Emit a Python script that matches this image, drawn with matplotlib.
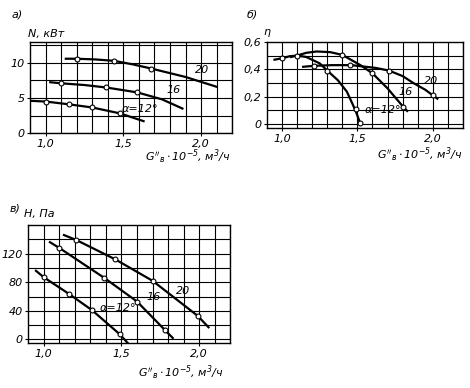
import numpy as np
import matplotlib
matplotlib.use("Agg")
import matplotlib.pyplot as plt

plt.rcParams['font.family'] = ['DejaVu Sans']
plt.rcParams['font.style'] = 'italic'
plt.rcParams['mathtext.fontset'] = 'dejavusans'
plt.rcParams['mathtext.default'] = 'it'

# --- a) power N, kW ---
a12_x = [0.90, 1.0, 1.15, 1.30, 1.48, 1.63]
a12_y = [4.6, 4.5, 4.1, 3.65, 2.8, 1.7]
a12_px = [1.0, 1.15, 1.30, 1.48]
a12_py = [4.5, 4.1, 3.65, 2.8]
a16_x = [1.03, 1.10, 1.25, 1.39, 1.59, 1.75, 1.88]
a16_y = [7.25, 7.1, 6.85, 6.5, 5.8, 4.8, 3.5]
a16_px = [1.10, 1.39, 1.59]
a16_py = [7.1, 6.5, 5.8]
a20_x = [1.13, 1.20, 1.32, 1.44, 1.56, 1.68, 1.90, 2.10]
a20_y = [10.6, 10.6, 10.5, 10.3, 9.8, 9.2, 8.0, 6.6]
a20_px = [1.20, 1.44, 1.68]
a20_py = [10.6, 10.3, 9.2]

# --- б) efficiency eta ---
b12_x = [0.95, 1.0, 1.05, 1.10, 1.16, 1.25, 1.30, 1.37, 1.43, 1.47, 1.49, 1.52]
b12_y = [0.47, 0.48, 0.495, 0.50, 0.49, 0.443, 0.39, 0.32, 0.236, 0.14, 0.09, 0.0]
b12_px = [1.0, 1.10, 1.30, 1.49, 1.52]
b12_py = [0.48, 0.50, 0.39, 0.11, 0.01]
b16_x = [1.06, 1.10, 1.16, 1.23, 1.32, 1.40, 1.52, 1.60, 1.70, 1.80, 1.83]
b16_y = [0.49, 0.50, 0.52, 0.53, 0.525, 0.505, 0.43, 0.37, 0.26, 0.13, 0.095]
b16_px = [1.40, 1.60, 1.80]
b16_py = [0.505, 0.37, 0.125]
b20_x = [1.14, 1.21, 1.33, 1.46, 1.62, 1.71, 1.80, 1.87, 1.95, 2.03]
b20_y = [0.418, 0.425, 0.43, 0.43, 0.41, 0.39, 0.35, 0.30, 0.25, 0.185]
b20_px = [1.21, 1.45, 1.71, 2.0]
b20_py = [0.425, 0.43, 0.39, 0.21]

# --- в) pressure H, Pa ---
c12_x = [0.95, 1.0, 1.16, 1.31, 1.49, 1.54]
c12_y = [96, 87, 64, 41, 7, -5]
c12_px = [1.0, 1.16, 1.31, 1.49]
c12_py = [87, 64, 41, 7]
c16_x = [1.04, 1.10, 1.39, 1.60, 1.78, 1.83]
c16_y = [136, 128, 86, 53, 13, 2]
c16_px = [1.10, 1.39, 1.60, 1.78]
c16_py = [128, 86, 53, 13]
c20_x = [1.13, 1.21, 1.46, 1.70, 1.99, 2.06]
c20_y = [146, 139, 112, 82, 33, 17]
c20_px = [1.21, 1.46, 1.70, 1.99]
c20_py = [139, 112, 82, 33]

xticks = [1.0, 1.5, 2.0]
xticklabels = ["1,0", "1,5", "2,0"]
xlab = r"$G''_{в}\cdot10^{-5}$, м$^3$/ч"

fig = plt.figure(figsize=(4.70, 3.88), dpi=100)
fig.patch.set_facecolor('white')


def setup(ax, ylim, ystep, yticks, yticklabels):
    ax.set_xlim(0.9, 2.2)
    ax.set_ylim(*ylim)
    for v in np.arange(1.0, 2.2, 0.1):
        ax.axvline(v, color='black', lw=0.8, zorder=1)
    y0 = np.ceil(ylim[0] / ystep) * ystep
    for v in np.arange(y0, ylim[1], ystep):
        ax.axhline(v, color='black', lw=0.8, zorder=1)
    ax.set_xticks(xticks)
    ax.set_xticklabels(xticklabels, fontsize=8)
    ax.set_yticks(yticks)
    ax.set_yticklabels(yticklabels, fontsize=8)
    ax.tick_params(length=2, width=0.8, pad=2)
    for s in ax.spines.values():
        s.set_linewidth(1.0)


def curve(ax, x, y, px, py):
    ax.plot(x, y, color='black', lw=1.6, zorder=3)
    ax.plot(px, py, 'o', ms=3.5, mfc='white', mec='black', mew=0.8, zorder=4)


# a)
ax1 = fig.add_axes([0.064, 0.657, 0.43, 0.235])
setup(ax1, (0, 13), 2.5, [0, 5, 10], ["0", "5", "10"])
curve(ax1, a12_x, a12_y, a12_px, a12_py)
curve(ax1, a16_x, a16_y, a16_px, a16_py)
curve(ax1, a20_x, a20_y, a20_px, a20_py)
ax1.text(1.96, 8.5, "20", fontsize=8)
ax1.text(1.78, 5.7, "16", fontsize=8)
ax1.text(1.49, 3.0, "α=12°", fontsize=8)
fig.text(0.025, 0.955, "а)", fontsize=8)
fig.text(0.06, 0.905, "N, кВт", fontsize=8)
fig.text(0.49, 0.585, xlab, fontsize=8, ha='right')

# б)
ax2 = fig.add_axes([0.568, 0.67, 0.417, 0.222])
setup(ax2, (-0.03, 0.6), 0.1, [0, 0.2, 0.4, 0.6], ["0", "0,2", "0,4", "0,6"])
curve(ax2, b12_x, b12_y, b12_px, b12_py)
curve(ax2, b16_x, b16_y, b16_px, b16_py)
curve(ax2, b20_x, b20_y, b20_px, b20_py)
ax2.text(1.94, 0.29, "20", fontsize=8)
ax2.text(1.77, 0.21, "16", fontsize=8)
ax2.text(1.55, 0.08, "α=12°", fontsize=8)
fig.text(0.525, 0.955, "б)", fontsize=8)
fig.text(0.56, 0.91, "η", fontsize=8)
fig.text(0.985, 0.59, xlab, fontsize=8, ha='right')

# в)
ax3 = fig.add_axes([0.06, 0.116, 0.43, 0.304])
setup(ax3, (-5, 160), 20, [0, 40, 80, 120], ["0", "40", "80", "120"])
curve(ax3, c12_x, c12_y, c12_px, c12_py)
curve(ax3, c16_x, c16_y, c16_px, c16_py)
curve(ax3, c20_x, c20_y, c20_px, c20_py)
ax3.text(1.66, 55, "16", fontsize=8)
ax3.text(1.85, 64, "20", fontsize=8)
ax3.text(1.36, 40, "α=12°", fontsize=8)
fig.text(0.02, 0.455, "в)", fontsize=8)
fig.text(0.05, 0.44, "H, Па", fontsize=8)
fig.text(0.475, 0.03, xlab, fontsize=8, ha='right')

fig.savefig("out.png", dpi=100, facecolor='white')
